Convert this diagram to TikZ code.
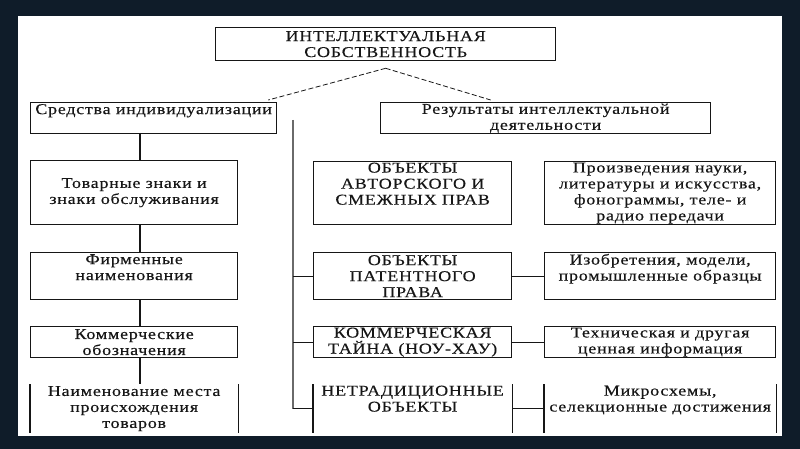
\documentclass[tikz,border=0pt]{standalone}
\usepackage{fontspec}
\setmainfont{Liberation Serif}[FakeStretch=1.2,LetterSpace=5,FakeBold=0.3]
\usetikzlibrary{positioning}
\definecolor{slide}{HTML}{0F1C29}
\definecolor{trunkgray}{HTML}{6A6A6A}
\definecolor{ink}{HTML}{161616}

\begin{document}
\begin{tikzpicture}[
 x=1pt,y=-1pt,
 box/.style={draw=ink,line width=1.3pt,anchor=north west,align=center,inner sep=0pt,text=ink,font=\fontsize{15}{16}\selectfont},
 openbox/.style={box,draw=none},
 lift/.style={text depth=#1},
 link/.style={draw=ink,line width=2.4pt},
 branch/.style={draw=ink,line width=0.9pt},
 side/.style={draw=ink,line width=1.3pt},
 dashlink/.style={draw=ink,line width=0.8pt,dash pattern=on 5pt off 2.5pt}
]
\useasboundingbox (0,0) rectangle (800,449);
\fill[slide] (0,0) rectangle (800,449);
\fill[white] (18,16) rectangle (782,436);
% top level
\node[box,minimum width=340pt,minimum height=33pt] (ip) at (215,27) {ИНТЕЛЛЕКТУАЛЬНАЯ\\СОБСТВЕННОСТЬ};
\node[box,minimum width=246pt,minimum height=31pt,lift=18pt] (sredstva) at (30,102) {Средства индивидуализации};
\node[box,minimum width=330pt,minimum height=31pt] (rezult) at (380,102) {Результаты интеллектуальной\\деятельности};
% left column
\node[box,minimum width=207pt,minimum height=64pt] (tovar) at (30,160) {Товарные знаки и\\знаки обслуживания};
\node[box,minimum width=207pt,minimum height=47pt,lift=18pt] (firm) at (30,252) {Фирменные\\наименования};
\node[box,minimum width=207pt,minimum height=31pt] (komm) at (30,326) {Коммерческие\\обозначения};
\node[openbox,minimum width=207pt,minimum height=48pt] (naim) at (30,384) {Наименование места\\происхождения\\товаров};
% middle column
\node[box,minimum width=198pt,minimum height=63pt,lift=19pt] (avtor) at (313,161) {ОБЪЕКТЫ\\АВТОРСКОГО И\\СМЕЖНЫХ ПРАВ};
\node[box,minimum width=198pt,minimum height=47pt] (patent) at (313,252) {ОБЪЕКТЫ\\ПАТЕНТНОГО\\ПРАВА};
\node[box,minimum width=198pt,minimum height=31pt] (tayna) at (313,326) {КОММЕРЧЕСКАЯ\\ТАЙНА (НОУ-ХАУ)};
\node[openbox,minimum width=198pt,minimum height=48pt,lift=20pt] (netrad) at (313,384) {НЕТРАДИЦИОННЫЕ\\ОБЪЕКТЫ};
% right column
\node[box,minimum width=231pt,minimum height=63pt] (proizv) at (544,161) {Произведения науки,\\литературы и искусства,\\фонограммы, теле- и\\радио передачи};
\node[box,minimum width=231pt,minimum height=47pt,lift=18pt] (izobr) at (544,252) {Изобретения, модели,\\промышленные образцы};
\node[box,minimum width=231pt,minimum height=31pt] (tehn) at (544,326) {Техническая и другая\\ценная информация};
\node[openbox,minimum width=231pt,minimum height=48pt,lift=20pt] (mikro) at (544,384) {Микросхемы,\\селекционные достижения};
% cut-off boxes, sides only
\foreach \b in {naim,netrad,mikro}
  \draw[side] (\b.north west) -- (\b.south west) (\b.north east) -- (\b.south east);
% connectors
\coordinate (apex) at ([yshift=-7pt]ip.south);
\draw[dashlink] (apex) -- ([xshift=-9pt,yshift=2pt]sredstva.north east);
\draw[dashlink] (apex) -- ([xshift=-55pt,yshift=2pt]rezult.north);
\coordinate (lspine) at (140,133);
\draw[link] (lspine) -- (lspine |- tovar.north);
\draw[link] (tovar.south -| lspine) -- (firm.north -| lspine);
\draw[link] (firm.south -| lspine) -- (komm.north -| lspine);
\draw[link] (komm.south -| lspine) -- (naim.north -| lspine);
\coordinate (trunk) at (293,120);
\draw[draw=trunkgray,line width=1.1pt] (trunk) -- (trunk |- netrad.west);
\foreach \m/\r in {patent/izobr,tayna/tehn,netrad/mikro}{
  \draw[branch] (\m.west -| trunk) -- (\m.west);
  \draw[branch] (\m.east) -- (\r.west);
}
\end{tikzpicture}
\end{document}
